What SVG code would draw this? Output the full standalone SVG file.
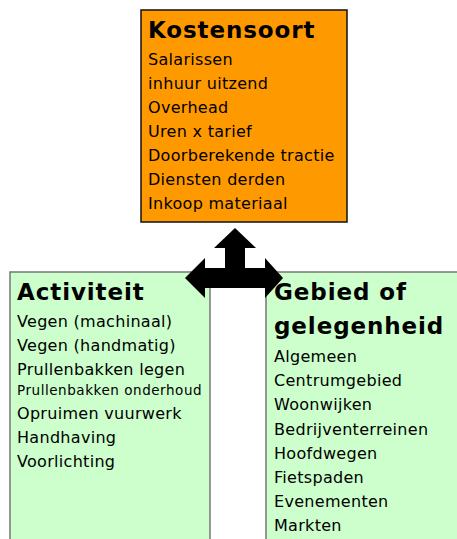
<svg xmlns="http://www.w3.org/2000/svg" width="457" height="539" viewBox="0 0 457 539">
<style>
.t{font-family:"DejaVu Sans",Verdana,sans-serif;font-weight:bold;font-size:23px;letter-spacing:0.9px;fill:#000}
.i{font-family:"DejaVu Sans",Verdana,sans-serif;font-size:16px;letter-spacing:0.3px;fill:#000}
.s{font-family:"DejaVu Sans",Verdana,sans-serif;font-size:13.5px;letter-spacing:0.55px;fill:#000}
.g{fill:#CCFFCC;stroke:#777;stroke-width:1.5}
</style>
<rect width="457" height="539" fill="#fff"/>
<g id="kostensoort">
<rect x="141" y="10" width="206" height="212" fill="#FF9900" stroke="#111" stroke-width="1.5"/>
<text class="t" x="148" y="38">Kostensoort</text>
<text class="i" x="148" y="65">Salarissen</text>
<text class="i" x="148" y="89">inhuur uitzend</text>
<text class="i" x="148" y="113">Overhead</text>
<text class="i" x="148" y="137">Uren x tarief</text>
<text class="i" x="148" y="161">Doorberekende tractie</text>
<text class="i" x="148" y="185">Diensten derden</text>
<text class="i" x="148" y="209">Inkoop materiaal</text>
</g>
<g id="activiteit">
<rect class="g" x="10" y="272" width="200" height="280"/>
<text class="t" x="17" y="300">Activiteit</text>
<text class="i" x="17" y="327">Vegen (machinaal)</text>
<text class="i" x="17" y="351">Vegen (handmatig)</text>
<text class="i" x="17" y="375">Prullenbakken legen</text>
<text class="s" x="17" y="395">Prullenbakken onderhoud</text>
<text class="i" x="17" y="419">Opruimen vuurwerk</text>
<text class="i" x="17" y="443">Handhaving</text>
<text class="i" x="17" y="467">Voorlichting</text>
</g>
<g id="gebied">
<rect class="g" x="266" y="272" width="200" height="280"/>
<text class="t" x="274" y="300">Gebied of</text>
<text class="t" x="274" y="334">gelegenheid</text>
<text class="i" x="274" y="362">Algemeen</text>
<text class="i" x="274" y="386">Centrumgebied</text>
<text class="i" x="274" y="410">Woonwijken</text>
<text class="i" x="274" y="435">Bedrijventerreinen</text>
<text class="i" x="274" y="459">Hoofdwegen</text>
<text class="i" x="274" y="483">Fietspaden</text>
<text class="i" x="274" y="507">Evenementen</text>
<text class="i" x="274" y="531">Markten</text>
</g>
<g id="connectors">
<polygon fill="#000" points="235,228 256,248 245,248 245,268 265,268 265,258 283,278 265,298 265,288 205,288 205,298 185,278 205,258 205,268 225,268 225,248 214,248"/>
</g>
</svg>
